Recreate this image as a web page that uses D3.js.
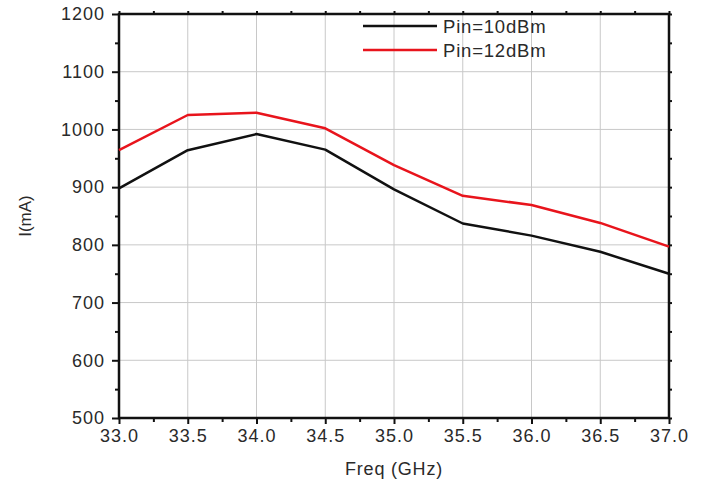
<!DOCTYPE html>
<html>
<head>
<meta charset="utf-8">
<script src="https://cdn.jsdelivr.net/npm/d3@7"></script>
<style>
  body { margin: 0; background: #fff; }
  svg text { font-family: Arial, "Liberation Sans", sans-serif; fill: #2a2a2a; }
</style>
</head>
<body>
<div id="chart"></div>
<script>
// data
const freq = [33.0, 33.5, 34.0, 34.5, 35.0, 35.5, 36.0, 36.5, 37.0];
const pin10 = [898, 964, 992, 965, 896, 837, 816, 788, 750];
const pin12 = [964, 1025, 1029, 1002, 938, 885, 869, 838, 797];
const seriesNames = ['Pin=10dBm', 'Pin=12dBm'];
const xTicks = [33.0, 33.5, 34.0, 34.5, 35.0, 35.5, 36.0, 36.5, 37.0];
const yTicks = [500, 600, 700, 800, 900, 1000, 1100, 1200];

const W = 704, H = 490;
const margin = {top: 14, right: 35, bottom: 72, left: 119};
const iw = W - margin.left - margin.right;
const ih = H - margin.top - margin.bottom;

const svg = d3.select('#chart').append('svg')
    .attr('width', W)
    .attr('height', H);

const g = svg.append('g')
    .attr('transform', `translate(${margin.left},${margin.top})`);

const x = d3.scaleLinear().domain([33, 37]).range([0, iw]);
const y = d3.scaleLinear().domain([500, 1200]).range([ih, 0]);

// grid
g.append('g').selectAll('line')
    .data(xTicks.slice(1, -1))
    .join('line')
    .attr('x1', d => x(d)).attr('x2', d => x(d))
    .attr('y1', 0).attr('y2', ih)
    .attr('stroke', '#c8c8c8').attr('stroke-width', 1);
g.append('g').selectAll('line')
    .data(yTicks.slice(1, -1))
    .join('line')
    .attr('y1', d => y(d)).attr('y2', d => y(d))
    .attr('x1', 0).attr('x2', iw)
    .attr('stroke', '#c8c8c8').attr('stroke-width', 1);

// minor ticks halfway between the majors
const xMinor = d3.range(33.25, 37, 0.5);
const yMinor = d3.range(550, 1200, 100);

function styleAxis(sel) {
    sel.select('.domain').remove();
    sel.selectAll('.tick line').attr('stroke', '#111').attr('stroke-width', 2);
    sel.selectAll('.tick text').style('font-size', '18px').style('letter-spacing', '1px');
}

// bottom axis
g.append('g')
    .attr('transform', `translate(0,${ih})`)
    .call(d3.axisBottom(x).tickValues(xTicks).tickFormat(d3.format('.1f')).tickSize(6).tickPadding(5))
    .call(styleAxis);
g.append('g')
    .attr('transform', `translate(0,${ih})`)
    .call(d3.axisBottom(x).tickValues(xMinor).tickFormat('').tickSize(4))
    .call(styleAxis);

// left axis
g.append('g')
    .call(d3.axisLeft(y).tickValues(yTicks).tickFormat(d3.format('d')).tickSize(7).tickPadding(7))
    .call(styleAxis);
g.append('g')
    .call(d3.axisLeft(y).tickValues(yMinor).tickFormat('').tickSize(4))
    .call(styleAxis);

// top and right axes, ticks only
g.append('g')
    .call(d3.axisTop(x).tickValues(xTicks.concat(xMinor)).tickFormat('').tickSize(3))
    .call(styleAxis);
g.append('g')
    .attr('transform', `translate(${iw},0)`)
    .call(d3.axisRight(y).tickValues(yTicks.concat(yMinor)).tickFormat('').tickSize(3))
    .call(styleAxis);

// frame
g.append('rect')
    .attr('width', iw).attr('height', ih)
    .attr('fill', 'none')
    .attr('stroke', '#111')
    .attr('stroke-width', 2.5);

// lines
const line = d3.line()
    .x((d, i) => x(freq[i]))
    .y(d => y(d));

const colors = ['#111111', '#e8141c'];
[pin10, pin12].forEach((s, k) => {
    g.append('path')
        .datum(s)
        .attr('d', line)
        .attr('fill', 'none')
        .attr('stroke', colors[k])
        .attr('stroke-width', 2.5)
        .attr('stroke-linejoin', 'round');
});

// legend
const legend = svg.append('g');
seriesNames.forEach((name, k) => {
    const ly = 26 + k * 24;
    legend.append('line')
        .attr('x1', 363).attr('x2', 437)
        .attr('y1', ly).attr('y2', ly)
        .attr('stroke', colors[k]).attr('stroke-width', 2.5);
    legend.append('text')
        .attr('x', 443).attr('y', ly + 7)
        .style('font-size', '18.5px')
        .style('letter-spacing', '0.8px')
        .text(name);
});

// axis titles
svg.append('text')
    .attr('x', 394)
    .attr('y', 475)
    .attr('text-anchor', 'middle')
    .style('font-size', '18px')
    .style('letter-spacing', '0.8px')
    .text('Freq (GHz)');

svg.append('text')
    .attr('transform', `translate(31,${margin.top + ih / 2}) rotate(-90)`)
    .attr('text-anchor', 'middle')
    .style('font-size', '17px')
    .text('I(mA)');
</script>
</body>
</html>
